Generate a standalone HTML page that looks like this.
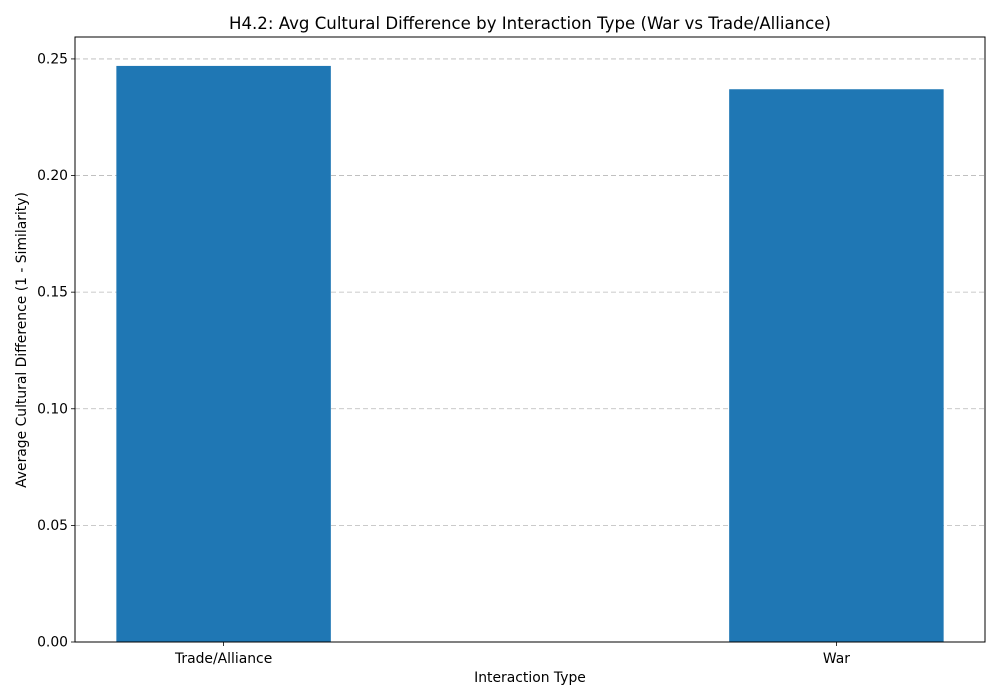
<!DOCTYPE html>
<html><head><meta charset="utf-8"><style>
html,body{margin:0;padding:0;background:#fff;}
svg{display:block;font-family:"DejaVu Sans","Liberation Sans",sans-serif;}
</style></head><body>
<svg id="chart" width="1000" height="700" viewBox="0 0 1000 700" xmlns="http://www.w3.org/2000/svg">
<rect x="0" y="0" width="1000" height="700" fill="#fff"/>
<text x="530" y="29" text-anchor="middle" font-size="16.6">H4.2: Avg Cultural Difference by Interaction Type (War vs Trade/Alliance)</text>
<g id="grid"></g><g id="bars"></g><g id="axes"></g>
<text x="530" y="682" text-anchor="middle" font-size="13.9">Interaction Type</text>
<text transform="translate(26,340) rotate(-90)" text-anchor="middle" font-size="13.9">Average Cultural Difference (1 - Similarity)</text>
</svg>
<script>
const categories = ["Trade/Alliance", "War"];
const values = [0.247, 0.237];
const yTicks = [0, 0.05, 0.10, 0.15, 0.20, 0.25];
const yTickLabels = ["0.00", "0.05", "0.10", "0.15", "0.20", "0.25"];

const L=75,R=985,T=37,B=642;
const yMax=0.2594, xMin=-0.2425, xMax=1.2425, barW=0.35;
const NS="http://www.w3.org/2000/svg";
const y=v=>B-(v/yMax)*(B-T);
const x=i=>L+(i-xMin)/(xMax-xMin)*(R-L);
function mk(tag,attrs,parent){const e=document.createElementNS(NS,tag);for(const k in attrs)e.setAttribute(k,attrs[k]);parent.appendChild(e);return e;}
const grid=document.getElementById('grid'),bars=document.getElementById('bars'),axes=document.getElementById('axes');
yTicks.forEach((t,i)=>{
  const g=mk('line',{x1:L,x2:R,y1:y(t),y2:y(t),stroke:'#b0b0b0','stroke-width':0.8,'stroke-dasharray':'5,3','stroke-opacity':0.9},grid);
  
  
  const tk=mk('line',{x1:L-4,x2:L,y1:y(t),y2:y(t),stroke:'#000','stroke-width':0.8},axes);
  
  
  const lb=mk('text',{x:L-7,y:y(t)+4.5,'text-anchor':'end','font-size':13.9},axes);
  lb.textContent=yTickLabels[i];
  
  
});
categories.forEach((c,i)=>{
  const x0=x(i-barW/2),x1=x(i+barW/2);
  const r=mk('rect',{x:x0,y:y(values[i]),width:x1-x0,height:B-y(values[i]),fill:'#1f77b4'},bars);
  
  
  const tk=mk('line',{x1:x(i),x2:x(i),y1:B,y2:B+4,stroke:'#000','stroke-width':0.8},axes);
  
  
  const lb=mk('text',{x:x(i),y:B+21,'text-anchor':'middle','font-size':13.9},axes);
  lb.textContent=c;
  
  
});
const fr=mk('rect',{x:L,y:T,width:R-L,height:B-T,fill:'none',stroke:'#000','stroke-width':1},axes);


</script>
</body></html>
